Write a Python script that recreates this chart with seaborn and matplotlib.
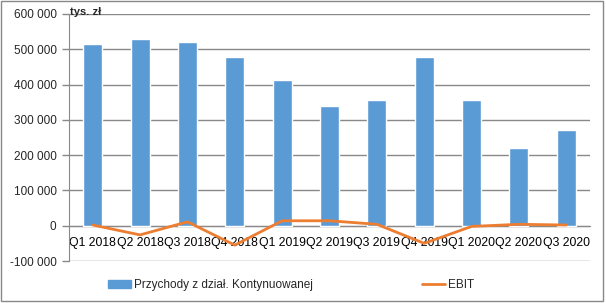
import matplotlib
matplotlib.use("Agg")
import matplotlib.pyplot as plt
import matplotlib.ticker as mticker
from matplotlib.patches import Rectangle
from matplotlib.lines import Line2D
import numpy as np
import pandas as pd
import seaborn as sns

quarters = ["Q1 2018", "Q2 2018", "Q3 2018", "Q4 2018", "Q1 2019", "Q2 2019",
            "Q3 2019", "Q4 2019", "Q1 2020", "Q2 2020", "Q3 2020"]
revenue = [516000, 530000, 521000, 479000, 413000, 340000,
           357000, 479000, 357000, 220000, 271000]
ebit = [2000, -26000, 11000, -55000, 14000, 14000,
        4000, -50000, -2000, 4000, 2000]
revenue_label = "Przychody z dział. Kontynuowanej"
ebit_label = "EBIT"
unit_label = "tys. zł"

BLUE = "#5B9BD5"
ORANGE = "#ED7D31"
GRID = "#898989"

sns.set_style("white")
plt.rcParams["font.family"] = ["Liberation Sans", "DejaVu Sans"]

df = pd.DataFrame({"kw": quarters, "rev": revenue, "ebit": ebit,
                   "pos": np.arange(len(quarters))})

fig = plt.figure(figsize=(6.06, 3.03), dpi=100)
ax = fig.add_axes([69 / 606, 1 - 261 / 303, (590 - 69) / 606, (261 - 14) / 303])

sns.barplot(data=df, x="kw", y="rev", color=BLUE, width=0.4, ax=ax,
            saturation=1, zorder=3)
sns.lineplot(data=df, x="pos", y="ebit", color=ORANGE, linewidth=2, ax=ax,
             zorder=4)

ax.set_xlim(-0.5, len(quarters) - 0.5)
ax.set_ylim(-100000, 600000)
ax.yaxis.set_major_locator(mticker.MultipleLocator(100000))
ax.yaxis.set_major_formatter(mticker.FuncFormatter(
    lambda v, p: f"{v:,.0f}".replace(",", " ")))
ax.grid(axis="y", color=GRID, linewidth=1, zorder=0)
ax.set_xlabel("")
ax.set_ylabel("")

for s in ["top", "right"]:
    ax.spines[s].set_visible(False)
ax.spines["left"].set_color(GRID)
ax.spines["bottom"].set_color(GRID)
ax.spines["bottom"].set_position(("data", 0))
ax.spines["bottom"].set_zorder(2)

ax.set_xticks(np.arange(len(quarters)))
ax.set_xticklabels(quarters)
ax.set_xticks(np.arange(-0.5, len(quarters)), minor=True)
ax.tick_params(axis="x", which="major", length=0, pad=8, labelsize=8.8,
               colors="black")
ax.tick_params(axis="x", which="minor", length=5, color=GRID, width=1,
               direction="out")
ax.tick_params(axis="y", length=5, color=GRID, width=1, pad=4, labelsize=8.5,
               left=True)

fig.text(70 / 606, 1 - 15 / 303, unit_label, fontsize=8, fontweight="bold",
         va="baseline", ha="left")

handles = [Rectangle((0, 0), 1, 1, color=BLUE),
           Line2D([0], [0], color=ORANGE, linewidth=2)]
fig.legend(handles, [revenue_label, ebit_label], loc="center",
           bbox_to_anchor=(0.48, 1 - 285 / 303), ncol=2, frameon=False,
           fontsize=8.5, columnspacing=9.2, handlelength=2.0,
           handleheight=0.6, handletextpad=0.25)

fig.patches.append(Rectangle((1 / 606, 2 / 303), 602 / 606, 300 / 303,
                             transform=fig.transFigure, fill=False,
                             edgecolor=GRID, linewidth=1))

fig.savefig("out.png", dpi=100)
